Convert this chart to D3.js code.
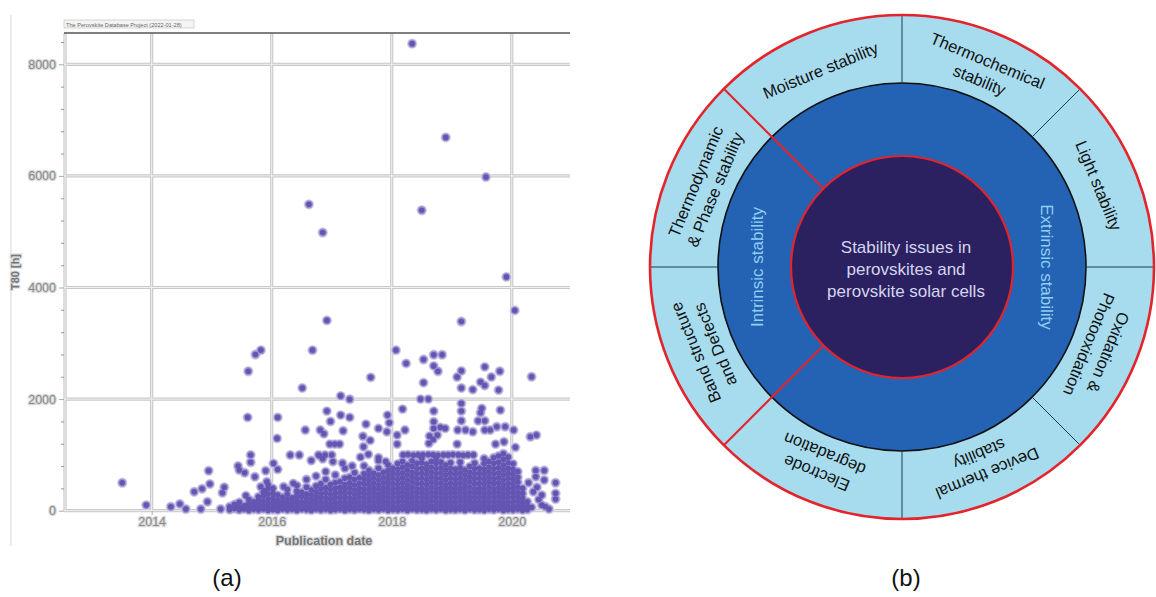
<!DOCTYPE html>
<html>
<head>
<meta charset="utf-8">
<script src="https://cdn.jsdelivr.net/npm/d3@7"></script>
<style>
  body { margin: 0; background: #fff; }
  svg { display: block; font-family: "Liberation Sans", Arial, sans-serif; }
</style>
</head>
<body>
<script>
// ---- panel (a) data: T80 lifetime vs publication date ----
const yearTicks = [2014, 2016, 2018, 2020];
const t80Ticks = [0, 2000, 4000, 6000, 8000];

// isolated points read one by one [date, T80 h]
const highPoints = [
  [2018.34, 8370], [2018.90, 6690], [2019.57, 5980], [2018.50, 5385], [2016.62, 5490],
  [2016.85, 4985], [2019.91, 4190], [2020.05, 3590], [2019.16, 3390], [2016.92, 3410],
  [2016.68, 2877], [2015.82, 2877], [2015.73, 2800], [2015.61, 2500], [2016.51, 2200],
  [2017.65, 2390], [2017.15, 2057], [2017.30, 1998], [2018.07, 2877], [2018.24, 2640],
  [2018.53, 2710], [2018.70, 2795], [2018.84, 2795], [2018.70, 2595], [2018.77, 2500],
  [2018.53, 2295], [2019.16, 2505], [2019.09, 2395], [2019.16, 2200], [2019.35, 2170],
  [2019.55, 2578], [2019.66, 2395], [2019.80, 2500], [2019.48, 2305], [2019.55, 2245],
  [2019.78, 2161], [2020.33, 2400], [2018.48, 2000], [2018.61, 2000]
];

const midPoints = [
  [2013.51, 500], [2013.91, 100], [2014.32, 70], [2014.47, 120], [2014.57, 30],
  [2014.71, 340], [2014.84, 394], [2014.97, 478], [2014.95, 716], [2014.93, 161],
  [2014.82, 30], [2015.15, 30], [2015.21, 419], [2015.18, 322], [2015.44, 800],
  [2015.46, 729], [2015.55, 681], [2015.65, 997], [2015.65, 867], [2015.72, 609],
  [2015.90, 716], [2016.03, 848], [2016.10, 741], [2015.60, 1672], [2016.10, 1672],
  [2016.09, 1296], [2016.56, 1445], [2016.81, 1445], [2016.31, 997], [2016.46, 997],
  [2016.80, 985], [2015.92, 520], [2015.82, 430], [2015.57, 270], [2015.78, 250],
  [2015.88, 360], [2015.39, 100], [2015.60, 100], [2016.20, 430], [2016.36, 490],
  [2016.87, 1380], [2016.98, 1600], [2016.92, 1785], [2017.15, 1713], [2017.30, 1672],
  [2017.19, 1432], [2016.97, 1194], [2017.05, 1194], [2017.13, 1194], [2017.57, 1552],
  [2017.78, 1475], [2017.93, 1713], [2017.96, 1576], [2017.92, 1415], [2017.52, 1334],
  [2017.64, 1260], [2017.53, 1146], [2018.09, 1355], [2018.09, 1194], [2018.22, 1445],
  [2018.18, 1821], [2018.62, 1207], [2018.63, 1337], [2018.69, 1278], [2018.70, 1475],
  [2018.81, 1493], [2018.89, 1475], [2018.76, 1355], [2018.70, 1594], [2018.70, 1785],
  [2019.10, 1445], [2019.23, 1445], [2019.35, 1415], [2019.16, 1611], [2019.16, 1785],
  [2019.16, 1923], [2019.50, 1834], [2019.48, 1755], [2019.44, 1611], [2019.55, 1611],
  [2019.81, 1803], [2019.55, 1445], [2019.64, 1445], [2019.75, 1504], [2019.89, 1504],
  [2020.03, 1445], [2019.09, 1194], [2019.73, 1194], [2019.87, 1235], [2020.06, 1135],
  [2020.31, 1325], [2020.41, 1355],
  [2018.19, 1000], [2018.27, 1005], [2018.36, 995], [2018.44, 1000], [2018.52, 1000],
  [2018.61, 1005], [2018.69, 1000], [2018.77, 995], [2018.86, 1000], [2018.94, 1000],
  [2019.02, 1005], [2019.11, 1000], [2019.19, 995], [2019.27, 1000], [2019.36, 1000],
  [2016.66, 900], [2016.85, 930], [2017.02, 880], [2017.18, 850], [2017.34, 800],
  [2017.48, 960], [2017.61, 1010], [2017.78, 950], [2017.90, 880], [2016.78, 997],
  [2016.89, 997], [2017.00, 997]
];

const tailPoints = [
  [2020.40, 720], [2020.54, 720], [2020.40, 609], [2020.54, 550], [2020.73, 501],
  [2020.73, 311], [2020.73, 210], [2020.56, 72], [2020.28, 500], [2020.36, 340],
  [2020.45, 200], [2020.50, 100], [2020.33, 60], [2020.62, 30], [2020.42, 420],
  [2020.50, 280]
];

// dense cloud near the axis, read column by column
const cloudYears = [
  2015.30, 2015.38, 2015.46, 2015.54, 2015.62, 2015.70, 2015.78, 2015.86, 2015.94, 2016.02,
  2016.10, 2016.18, 2016.26, 2016.34, 2016.42, 2016.50, 2016.58, 2016.66, 2016.74, 2016.82,
  2016.90, 2016.98, 2017.06, 2017.14, 2017.22, 2017.30, 2017.38, 2017.46, 2017.54, 2017.62,
  2017.70, 2017.78, 2017.86, 2017.94, 2018.02, 2018.10, 2018.18, 2018.26, 2018.34, 2018.42,
  2018.50, 2018.58, 2018.66, 2018.74, 2018.82, 2018.90, 2018.98, 2019.06, 2019.14, 2019.22,
  2019.30, 2019.38, 2019.46, 2019.54, 2019.62, 2019.70, 2019.78, 2019.86, 2019.94, 2020.02,
  2020.10, 2020.18, 2020.26
];
const cloudT80 = [
  [20, 70], [40, 110], [15, 60, 150], [30, 90], [10, 50, 130, 200],
  [25, 80, 160], [15, 60, 120, 190], [30, 90, 170, 260, 330], [10, 60, 130, 210, 300, 390, 460], [20, 70, 140, 220, 310, 400],
  [10, 60, 120, 190, 280], [30, 90, 160, 240], [15, 70, 130, 200, 290, 380], [25, 80, 150, 230], [10, 60, 120, 190, 270, 350, 450],
  [30, 90, 160, 250, 330], [20, 70, 140, 220, 300, 420, 560], [10, 60, 130, 200, 280, 370], [30, 90, 170, 250, 340, 440, 620], [15, 70, 140, 220, 300, 390, 480],
  [25, 80, 150, 230, 320, 410, 560, 700], [10, 60, 130, 210, 290, 380, 470], [20, 80, 150, 230, 310, 400, 500, 640], [30, 90, 160, 240, 330, 420, 520], [10, 70, 140, 220, 300, 380, 470, 580, 760],
  [25, 85, 150, 230, 320, 410, 500, 600], [15, 75, 140, 210, 290, 370, 460, 560, 680], [30, 90, 160, 240, 320, 400, 490, 590], [20, 80, 150, 230, 310, 390, 480, 570, 660, 800], [10, 70, 140, 210, 290, 370, 450, 540, 630, 720],
  [25, 90, 160, 240, 320, 400, 490, 580, 670], [15, 80, 150, 220, 300, 380, 460, 550, 640, 760, 900], [30, 95, 170, 250, 330, 410, 500, 590, 690], [10, 70, 140, 220, 300, 380, 460, 540, 630, 720, 820], [20, 85, 160, 240, 320, 400, 490, 580, 670, 760],
  [15, 75, 150, 230, 310, 390, 470, 560, 650, 740, 840], [25, 90, 170, 250, 330, 410, 500, 590, 680, 780, 880], [10, 70, 140, 220, 300, 380, 460, 550, 640, 730, 820], [30, 95, 170, 250, 330, 420, 510, 600, 690, 790, 890], [15, 80, 150, 230, 310, 390, 480, 570, 660, 750, 850],
  [20, 85, 160, 240, 320, 400, 490, 580, 670, 760, 860, 940], [10, 70, 140, 220, 300, 380, 470, 560, 650, 740, 830], [25, 90, 170, 250, 330, 420, 510, 600, 690, 780, 880], [15, 75, 150, 230, 310, 390, 480, 570, 660, 750, 850, 930], [30, 95, 170, 250, 330, 410, 500, 590, 680, 770, 870],
  [10, 70, 140, 220, 300, 380, 460, 550, 640, 730, 820], [20, 85, 160, 240, 320, 400, 490, 580, 670, 760, 860], [15, 75, 150, 230, 310, 390, 470, 560, 650, 740], [25, 90, 170, 250, 330, 410, 500, 590, 680, 770, 870], [10, 70, 140, 220, 300, 380, 460, 550, 640, 730],
  [30, 95, 170, 250, 330, 420, 510, 600, 690, 790], [15, 80, 150, 230, 310, 390, 480, 570, 660, 750, 850], [20, 85, 160, 240, 320, 400, 490, 580, 670, 760], [10, 70, 140, 220, 300, 380, 470, 560, 650, 740, 840, 930], [25, 90, 170, 250, 330, 420, 510, 600, 690, 780, 880],
  [15, 75, 150, 230, 310, 390, 480, 570, 660, 750, 850, 950], [30, 95, 170, 250, 330, 410, 500, 590, 680, 770, 870, 980], [10, 70, 140, 220, 300, 380, 460, 550, 640, 730, 820, 920, 1020], [20, 85, 160, 240, 320, 400, 490, 580, 670, 760, 860, 960], [15, 75, 150, 230, 310, 390, 470, 560, 650, 740, 840],
  [25, 90, 170, 250, 330, 420, 510, 600, 700], [10, 70, 140, 220, 310, 400], [20, 80, 160]
];

// ---- panel (b) data: stability wheel ----
const outerLabels = [
  ["Moisture stability"], ["Thermochemical", "stability"], ["Light stability"],
  ["Oxidation &", "Photooxidation"], ["Device thermal", "stability"], ["Electrode", "degradation"],
  ["Band structure", "and Defects"], ["Thermodynamic", "& Phase stability"]
];
// degrees clockwise from 12 o'clock
const outerAngles = [-22.5, 22.5, 67.5, 112.5, 157.5, 202.5, 247.5, 292.5];
const dividerAngles = [0, 45, 90, 135, 180, 270];
const redDividerAngles = [225, 315];
const innerLabels = ["Intrinsic stability", "Extrinsic stability"];
const innerAngles = [270, 90];
const centerLines = ["Stability issues in", "perovskites and", "perovskite solar cells"];
const panelLabels = ["(a)", "(b)"];

const width = 1156, height = 597;

const svg = d3.select("body").append("svg")
  .attr("width", width)
  .attr("height", height);

drawScatter();
drawWheel();

svg.selectAll("text.panel")
  .data(panelLabels)
  .join("text")
  .attr("class", "panel")
  .attr("x", (d, i) => i == 0 ? 227 : 906)
  .attr("y", 586)
  .attr("text-anchor", "middle")
  .attr("font-size", 24)
  .attr("fill", "#111")
  .text(d => d);

function drawScatter() {
  let x = d3.scaleLinear().domain([2012.54, 2020.97]).range([64, 570]);
  let y = d3.scaleLinear().domain([0, 8561]).range([510.7, 33]);
  let g = svg.append("g");

  // frame line on the far left
  g.append("line")
    .attr("x1", 11).attr("x2", 11).attr("y1", 15).attr("y2", 546)
    .attr("stroke", "#d6d6d6").attr("stroke-width", 1);

  // small title box
  g.append("rect")
    .attr("x", 64).attr("y", 20).attr("width", 130).attr("height", 8)
    .attr("fill", "#f4f4f4").attr("stroke", "#bbb").attr("stroke-width", 0.6);
  g.append("text")
    .attr("x", 66).attr("y", 26.5)
    .attr("font-size", 5.6).attr("fill", "#666")
    .text("The Perovskite Database Project (2022-01-28)");

  // grid
  let grid = g.append("g");
  [["#c8c8c8", 3.2], ["#f2f2f2", 1]].forEach(([c, w]) => {
    grid.selectAll(null).data(yearTicks).join("line")
      .attr("x1", d => x(d)).attr("x2", d => x(d))
      .attr("y1", 33).attr("y2", 511)
      .attr("stroke", c).attr("stroke-width", w);
    grid.selectAll(null).data(t80Ticks).join("line")
      .attr("x1", 64).attr("x2", 570)
      .attr("y1", d => y(d)).attr("y2", d => y(d))
      .attr("stroke", c).attr("stroke-width", w);
    grid.append("line")
      .attr("x1", 65).attr("x2", 65).attr("y1", 33).attr("y2", 511)
      .attr("stroke", c).attr("stroke-width", w);
  });
  g.append("line")
    .attr("x1", 64).attr("x2", 570).attr("y1", 33).attr("y2", 33)
    .attr("stroke", "#555").attr("stroke-width", 1.6);

  // y axis
  let minor = d3.range(400, 8561, 400).filter(v => v % 2000 != 0);
  g.append("g")
    .attr("transform", "translate(64,0)")
    .call(d3.axisLeft(y).tickValues(minor).tickSize(3).tickFormat(""))
    .call(a => a.select(".domain").remove())
    .call(a => a.selectAll("line").attr("stroke", "#999"));
  let yAxis = g.append("g")
    .attr("transform", "translate(64,0)")
    .call(d3.axisLeft(y).tickValues(t80Ticks).tickSize(5).tickPadding(3).tickFormat(d3.format("d")));
  yAxis.select(".domain").remove();

  // x axis
  let xAxis = g.append("g")
    .attr("transform", "translate(0,511)")
    .call(d3.axisBottom(x).tickValues(yearTicks).tickSize(4).tickPadding(2).tickFormat(d3.format("d")));
  xAxis.select(".domain").remove();

  [yAxis, xAxis].forEach(a => {
    a.selectAll("line").attr("stroke", "#aaa");
    a.selectAll("text")
      .attr("font-size", 12.5)
      .attr("font-family", "'Liberation Sans', Arial, sans-serif")
      .attr("fill", "#8a8a8a")
      .attr("stroke", "#d9d9d9")
      .attr("stroke-width", 2.4)
      .attr("paint-order", "stroke");
  });

  g.append("text")
    .attr("x", 324).attr("y", 545)
    .attr("text-anchor", "middle")
    .attr("font-size", 12.5).attr("font-weight", "bold")
    .attr("fill", "#777").attr("stroke", "#dadada").attr("stroke-width", 2.4)
    .attr("paint-order", "stroke")
    .text("Publication date");

  g.append("text")
    .attr("transform", "translate(19,272) rotate(-90)")
    .attr("text-anchor", "middle")
    .attr("font-size", 11).attr("font-weight", "bold")
    .attr("fill", "#777").attr("stroke", "#dadada").attr("stroke-width", 2.2)
    .attr("paint-order", "stroke")
    .text("T80 [h]");

  // points
  let cloud = cloudYears.flatMap((yr, i) => cloudT80[i].map(v => [yr, v]));
  let pts = highPoints.concat(midPoints, tailPoints, cloud);

  let dots = g.append("g");
  dots.selectAll("circle.halo").data(pts).join("circle")
    .attr("class", "halo")
    .attr("cx", d => x(d[0])).attr("cy", d => y(d[1]))
    .attr("r", 5.2)
    .attr("fill", "#d6d3e8");
  dots.selectAll("circle.ring").data(pts).join("circle")
    .attr("class", "ring")
    .attr("cx", d => x(d[0])).attr("cy", d => y(d[1]))
    .attr("r", 4.2)
    .attr("fill", "#9f97d2");
  dots.selectAll("circle.dot").data(pts).join("circle")
    .attr("class", "dot")
    .attr("cx", d => x(d[0])).attr("cy", d => y(d[1]))
    .attr("r", 2.8)
    .attr("fill", "#6455b2");
}

function drawWheel() {
  let cx = 902, cy = 267;
  let rIn = 111, rMid = 184, rOut = 252;
  let g = svg.append("g").attr("transform", `translate(${cx},${cy})`);
  let rad = d => d * Math.PI / 180;

  g.append("circle").attr("r", rOut).attr("fill", "#a7dcef");
  g.append("circle").attr("r", rMid).attr("fill", "#2462b3")
    .attr("stroke", "#111").attr("stroke-width", 1.6);
  g.append("circle").attr("r", rIn).attr("fill", "#2b2160");

  g.selectAll("line.div").data(dividerAngles).join("line")
    .attr("class", "div")
    .attr("x1", d => d3.pointRadial(rad(d), rMid)[0])
    .attr("y1", d => d3.pointRadial(rad(d), rMid)[1])
    .attr("x2", d => d3.pointRadial(rad(d), rOut)[0])
    .attr("y2", d => d3.pointRadial(rad(d), rOut)[1])
    .attr("stroke", "#1d3d4f").attr("stroke-width", 1);

  g.selectAll("line.red").data(redDividerAngles).join("line")
    .attr("class", "red")
    .attr("x1", d => d3.pointRadial(rad(d), rIn)[0])
    .attr("y1", d => d3.pointRadial(rad(d), rIn)[1])
    .attr("x2", d => d3.pointRadial(rad(d), rOut)[0])
    .attr("y2", d => d3.pointRadial(rad(d), rOut)[1])
    .attr("stroke", "#e4232b").attr("stroke-width", 2);

  g.append("circle").attr("r", rIn).attr("fill", "none")
    .attr("stroke", "#e4232b").attr("stroke-width", 2.2);
  g.append("circle").attr("r", rOut).attr("fill", "none")
    .attr("stroke", "#e4232b").attr("stroke-width", 2.6);

  // outer ring labels, tops facing outward
  outerLabels.forEach((lines, i) => {
    let a = outerAngles[i];
    let [px, py] = d3.pointRadial(rad(a), 213);
    let t = g.append("text")
      .attr("transform", `translate(${px},${py}) rotate(${a})`)
      .attr("text-anchor", "middle")
      .attr("font-size", 16.5)
      .attr("fill", "#111");
    lines.forEach((s, j) => {
      t.append("tspan")
        .attr("x", 0)
        .attr("y", (j - (lines.length - 1) / 2) * 21 + 6)
        .text(s);
    });
  });

  innerLabels.forEach((s, i) => {
    let a = innerAngles[i];
    let [px, py] = d3.pointRadial(rad(a), 145);
    g.append("text")
      .attr("transform", `translate(${px},${py}) rotate(${a})`)
      .attr("text-anchor", "middle")
      .attr("y", 6)
      .attr("font-size", 17)
      .attr("fill", "#8fd0f2")
      .text(s);
  });

  g.selectAll("text.center").data(centerLines).join("text")
    .attr("class", "center")
    .attr("x", 4)
    .attr("y", (d, i) => (i - 1) * 22 + 8)
    .attr("text-anchor", "middle")
    .attr("font-size", 17)
    .attr("fill", "#d6d4ef")
    .text(d => d);
}
</script>
</body>
</html>
